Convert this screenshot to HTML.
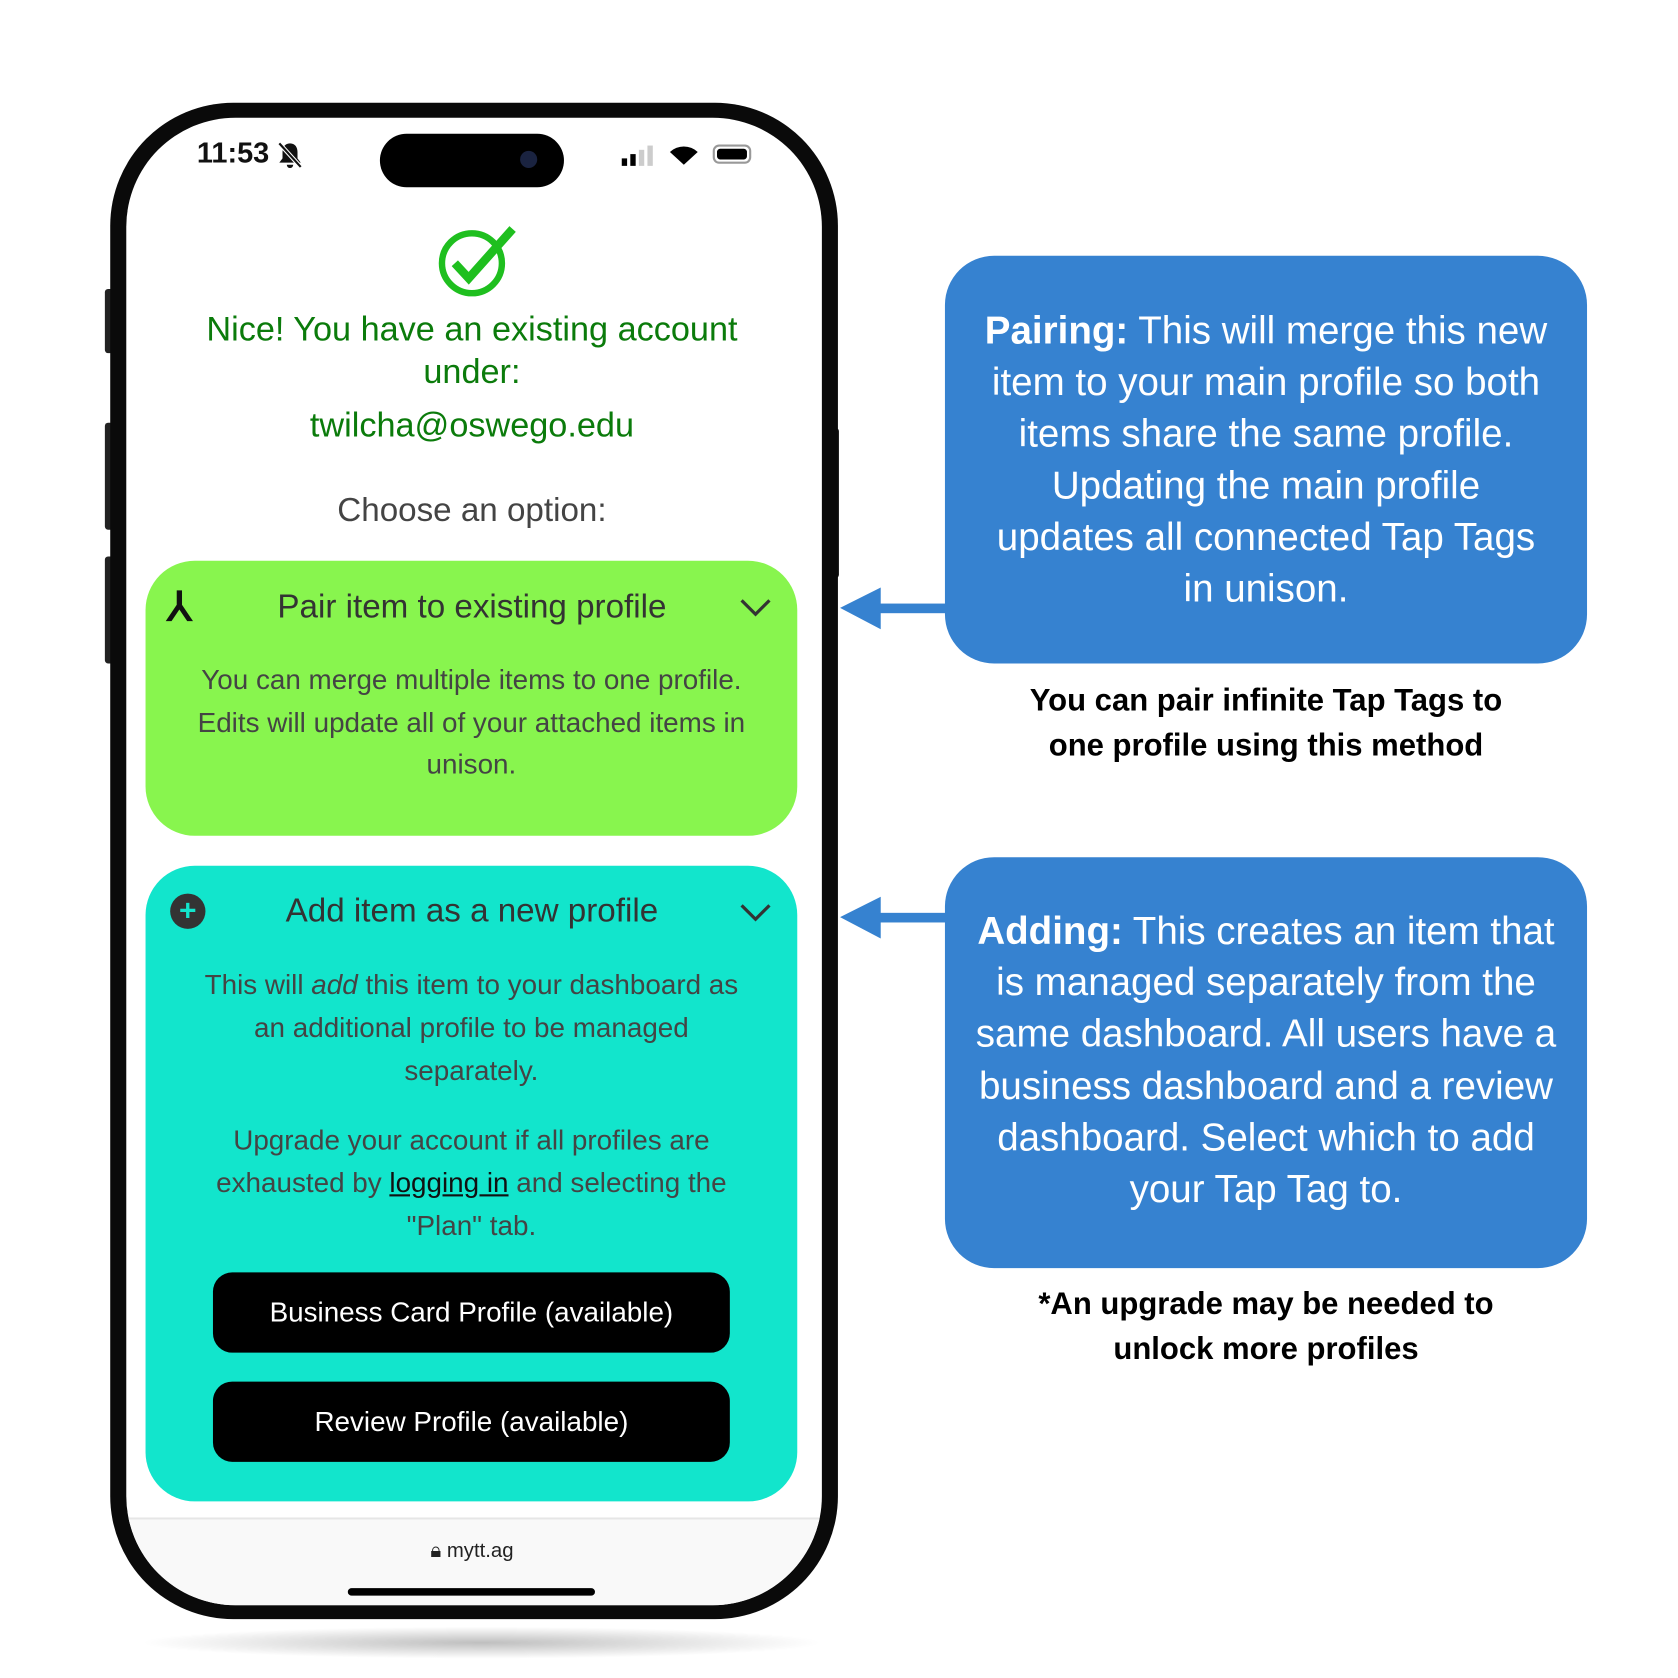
<!DOCTYPE html>
<html><head><meta charset="utf-8"><style>
body{margin:0;width:1678px;height:1678px;background:#fff;overflow:hidden;font-family:"Liberation Sans",sans-serif}
#w{position:absolute;left:0;top:0;width:1568px;height:1568px;transform:scale(1.07015);transform-origin:0 0}
.a{position:absolute}
.c{position:absolute;text-align:center;white-space:nowrap}
</style></head><body><div id="w">
<div class="a" style="left:130px;top:1520px;width:640px;height:30px;border-radius:50%;background:radial-gradient(ellipse,rgba(0,0,0,.25),rgba(0,0,0,0) 70%)"></div>
<div class="a" style="left:98px;top:270px;width:8px;height:60px;background:#222;border-radius:3px"></div>
<div class="a" style="left:98px;top:395px;width:8px;height:100px;background:#222;border-radius:3px"></div>
<div class="a" style="left:98px;top:520px;width:8px;height:100px;background:#222;border-radius:3px"></div>
<div class="a" style="left:776px;top:400px;width:8px;height:140px;background:#222;border-radius:3px"></div>
<div class="a" style="left:103px;top:96px;width:680px;height:1417px;border-radius:115px;background:#0a0a0a"></div>
<div class="a" style="left:118px;top:110px;width:650px;height:1390px;border-radius:102px;background:#fff;overflow:hidden">
 <div class="a" style="left:0;top:1308px;width:650px;height:2px;background:#e6e6e6"></div>
 <div class="a" style="left:0;top:1310px;width:650px;height:80px;background:#f9f9f9"></div>
</div>
<div class="c" style="left:184px;top:128px;font-size:27px;font-weight:600;color:#111">11:53</div>
<svg class="a" style="left:259px;top:132px" width="24" height="26" viewBox="0 0 24 26"><path d="M12 2 C7 2 5 6 5 10 L5 16 L2 20 L22 20 L19 16 L19 10 C19 6 17 2 12 2 Z M9 22 A3 3 0 0 0 15 22 Z" fill="#111"/><path d="M2 2 L22 24" stroke="#fff" stroke-width="4"/><path d="M2 2 L22 24" stroke="#111" stroke-width="2"/></svg>
<div class="a" style="left:355px;top:125px;width:172px;height:50px;border-radius:25px;background:#000"></div>
<div class="a" style="left:486px;top:141px;width:16px;height:16px;border-radius:50%;background:#1a2340"></div>
<div class="a" style="left:581px;top:148px;width:5px;height:7px;background:#000"></div>
<div class="a" style="left:589px;top:144px;width:5px;height:11px;background:#000"></div>
<div class="a" style="left:597px;top:140px;width:5px;height:15px;background:#ccc"></div>
<div class="a" style="left:605px;top:136px;width:5px;height:19px;background:#ccc"></div>
<svg class="a" style="left:624px;top:134px" width="30" height="22" viewBox="0 0 30 22"><path d="M15 20 L2 8 A19 19 0 0 1 28 8 Z" fill="#000"/></svg>
<div class="a" style="left:666px;top:135px;width:36px;height:18px;border:2px solid #999;border-radius:6px;box-sizing:border-box;padding:2px"><div style="width:100%;height:100%;background:#000;border-radius:3px"></div></div>
<svg class="a" style="left:405px;top:210px" width="80" height="70" viewBox="0 0 80 70"><circle cx="36" cy="36" r="28" fill="none" stroke="#1fbf1f" stroke-width="6"/><path d="M20 36 L33 50 L74 4" fill="none" stroke="#1fbf1f" stroke-width="8"/></svg>
<div class="c" style="left:141px;width:600px;top:287px;font-size:32px;line-height:40px;color:#0b7b0b">Nice! You have an existing account<br>under:</div>
<div class="c" style="left:141px;width:600px;top:379px;font-size:32px;color:#0b7b0b">twilcha@oswego.edu</div>
<div class="c" style="left:141px;width:600px;top:459px;font-size:31px;color:#444">Choose an option:</div>
<div class="a" style="left:136px;top:524px;width:609px;height:257px;border-radius:46px;background:#88f54e"></div>
<div class="c" style="left:156px;top:545px;font-size:38px;font-weight:bold;color:#111">⅄</div>
<div class="c" style="left:141px;width:600px;top:549px;font-size:31px;color:#333">Pair item to existing profile</div>
<svg class="a" style="left:690px;top:558px" width="32" height="20"><path d="M3 3 L16 16 L29 3" fill="none" stroke="#333" stroke-width="3"/></svg>
<div class="c" style="left:136px;width:609px;top:616px;font-size:26px;line-height:39.5px;color:#444">You can merge multiple items to one profile.<br>Edits will update all of your attached items in<br>unison.</div>
<div class="a" style="left:136px;top:809px;width:609px;height:594px;border-radius:46px;background:#12e5cc"></div>
<div class="a" style="left:159px;top:835px;width:33px;height:33px;border-radius:50%;background:#333;color:#12e5cc;font-size:28px;line-height:32px;text-align:center;font-weight:bold">+</div>
<div class="c" style="left:141px;width:600px;top:833px;font-size:31px;color:#333">Add item as a new profile</div>
<svg class="a" style="left:690px;top:843px" width="32" height="20"><path d="M3 3 L16 16 L29 3" fill="none" stroke="#333" stroke-width="3"/></svg>
<div class="c" style="left:136px;width:609px;top:900px;font-size:26px;line-height:40px;color:#444">This will <i>add</i> this item to your dashboard as<br>an additional profile to be managed<br>separately.</div>
<div class="c" style="left:136px;width:609px;top:1045px;font-size:26px;line-height:40px;color:#444">Upgrade your account if all profiles are<br>exhausted by <u style="color:#111">logging in</u> and selecting the<br>"Plan" tab.</div>
<div class="a" style="left:199px;top:1189px;width:483px;height:75px;border-radius:18px;background:#000;color:#fff;font-size:26px;line-height:75px;text-align:center">Business Card Profile (available)</div>
<div class="a" style="left:199px;top:1291px;width:483px;height:75px;border-radius:18px;background:#000;color:#fff;font-size:26px;line-height:75px;text-align:center">Review Profile (available)</div>
<div class="c" style="left:141px;width:600px;top:1439px;font-size:19px;color:#222">🔒︎ mytt.ag</div>
<div class="a" style="left:325px;top:1484px;width:231px;height:7px;border-radius:4px;background:#000"></div>
<div class="a" style="left:883px;top:239px;width:600px;height:381px;border-radius:46px;background:#3682d0"></div>
<div class="c" style="left:883px;width:600px;top:285px;font-size:36px;line-height:48.2px;color:#fff"><b>Pairing:</b> This will merge this new<br>item to your main profile so both<br>items share the same profile.<br>Updating the main profile<br>updates all connected Tap Tags<br>in unison.</div>
<div class="a" style="left:883px;top:801px;width:600px;height:384px;border-radius:46px;background:#3682d0"></div>
<div class="c" style="left:883px;width:600px;top:846px;font-size:36px;line-height:48.2px;color:#fff"><b>Adding:</b> This creates an item that<br>is managed separately from the<br>same dashboard. All users have a<br>business dashboard and a review<br>dashboard. Select which to add<br>your Tap Tag to.</div>
<svg class="a" style="left:780px;top:545px" width="110" height="50"><rect x="30" y="19" width="75" height="9" fill="#3682d0"/><path d="M5 23 L43 4 L43 43 Z" fill="#3682d0"/></svg>
<svg class="a" style="left:780px;top:834px" width="110" height="50"><rect x="30" y="19" width="75" height="9" fill="#3682d0"/><path d="M5 23 L43 4 L43 43 Z" fill="#3682d0"/></svg>
<div class="c" style="left:883px;width:600px;top:634px;font-size:29px;line-height:42px;font-weight:bold;color:#000">You can pair infinite Tap Tags to<br>one profile using this method</div>
<div class="c" style="left:883px;width:600px;top:1198px;font-size:29px;line-height:42px;font-weight:bold;color:#000">*An upgrade may be needed to<br>unlock more profiles</div>
</div></body></html>
